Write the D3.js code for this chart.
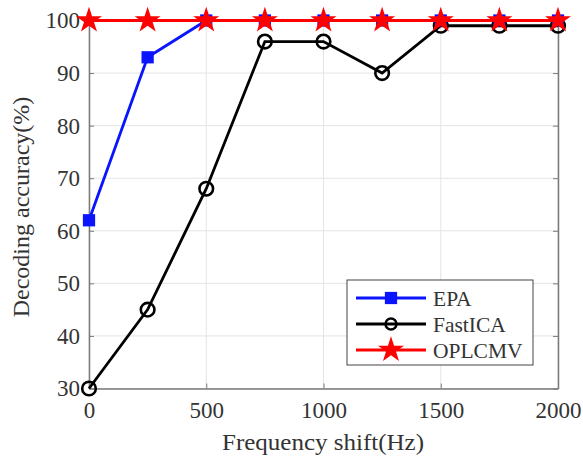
<!DOCTYPE html>
<html><head><meta charset="utf-8">
<script src="https://cdn.jsdelivr.net/npm/d3@7"></script>
<style>body{margin:0;background:#fff}svg{display:block}text{font-family:"Liberation Serif","Times New Roman",serif}</style>
</head><body><svg id="c" width="583" height="460"></svg>
<script>
const freqs = [0, 250, 500, 750, 1000, 1250, 1500, 1750, 2000];
const epa = [62, 93, 100, 100, 100, 100, 100, 100, 100];
const fastica = [30, 45, 68, 96, 96, 90, 99, 99, 99];
const oplcmv = [100, 100, 100, 100, 100, 100, 100, 100, 100];
const xTicks = [0, 500, 1000, 1500, 2000];
const yTicks = [30, 40, 50, 60, 70, 80, 90, 100];
const seriesNames = ["EPA", "FastICA", "OPLCMV"];

const svg = d3.select("#c");
const L = 89, R = 558, T = 20.5, B = 388.5;
const x = d3.scaleLinear().domain([0, 2000]).range([L, R]);
const y = d3.scaleLinear().domain([30, 100]).range([B, T]);
const axisCol = "#7a7a7a", gridCol = "#e4e4e4";

// grid
svg.append("g").selectAll("line").data(xTicks).join("line")
  .attr("x1", d => x(d)).attr("x2", d => x(d)).attr("y1", T).attr("y2", B)
  .attr("stroke", gridCol).attr("stroke-width", 1);
svg.append("g").selectAll("line").data(yTicks).join("line")
  .attr("x1", L).attr("x2", R).attr("y1", d => y(d)).attr("y2", d => y(d))
  .attr("stroke", gridCol).attr("stroke-width", 1);

// axes
const fmt = d3.format("d");
const ax = (g) => { g.select(".domain").attr("stroke", axisCol).attr("stroke-width", 1.5);
  g.selectAll(".tick line").attr("stroke", axisCol);
  g.selectAll(".tick text").attr("fill", "#333").style("font-size", "23px").style("font-family", '"Liberation Serif",serif'); };
svg.append("g").attr("transform", `translate(0,${B})`)
  .call(d3.axisBottom(x).tickValues(xTicks).tickFormat(fmt).tickSizeInner(-5).tickSizeOuter(0).tickPadding(13)).call(ax);
svg.append("g").attr("transform", `translate(${L},0)`)
  .call(d3.axisLeft(y).tickValues(yTicks).tickFormat(fmt).tickSizeInner(-5).tickSizeOuter(0).tickPadding(9)).call(ax);
svg.append("g").attr("transform", `translate(${R},0)`)
  .call(d3.axisRight(y).tickValues(yTicks).tickFormat("").tickSizeInner(-5).tickSizeOuter(0)).call(ax);
svg.append("g").attr("transform", `translate(0,${T})`)
  .call(d3.axisTop(x).tickValues(xTicks).tickFormat("").tickSizeInner(-5).tickSizeOuter(0)).call(ax);

const line = d3.line().x((d, i) => x(freqs[i])).y(d => y(d));
const star = d3.symbol().type(d3.symbolStar).size(210);
const sq = d3.symbol().type(d3.symbolSquare).size(150);

function draw(data, col, kind) {
  svg.append("path").datum(data).attr("d", line).attr("fill", "none").attr("stroke", col).attr("stroke-width", 2.8);
  const g = svg.append("g");
  data.forEach((v, i) => {
    if (kind === "circle") g.append("circle").attr("cx", x(freqs[i])).attr("cy", y(v)).attr("r", 6.8)
        .attr("fill", "none").attr("stroke", col).attr("stroke-width", 2.6);
    else g.append("path").attr("d", kind === "star" ? star() : sq()).attr("transform", `translate(${x(freqs[i])},${y(v)})`).attr("fill", col);
  });
}
draw(fastica, "#000", "circle");
draw(epa, "#0a14ff", "square");
draw(oplcmv, "#ff0000", "star");

// labels
svg.append("text").attr("x", 323).attr("y", 450).attr("text-anchor", "middle").style("font-size", "24px").attr("fill", "#333")
  .attr("textLength", 202).attr("lengthAdjust", "spacingAndGlyphs").text("Frequency shift(Hz)");
svg.append("text").attr("transform", "translate(29,207) rotate(-90)").attr("text-anchor", "middle").style("font-size", "24px").attr("fill", "#333").text("Decoding accuracy(%)");

// legend
const lg = svg.append("g");
lg.append("rect").attr("x", 347).attr("y", 280).attr("width", 186).attr("height", 85).attr("fill", "#fff").attr("stroke", "#444").attr("stroke-width", 1);
const cols = ["#0a14ff", "#000", "#ff0000"], kinds = ["square", "circle", "star"];
seriesNames.forEach((n, i) => {
  const yy = 298 + i * 26;
  lg.append("line").attr("x1", 356).attr("x2", 426).attr("y1", yy).attr("y2", yy).attr("stroke", cols[i]).attr("stroke-width", 2.8);
  if (kinds[i] === "circle") lg.append("circle").attr("cx", 391).attr("cy", yy).attr("r", 5.5).attr("fill", "none").attr("stroke", cols[i]).attr("stroke-width", 2.4);
  else lg.append("path").attr("d", kinds[i] === "star" ? star() : sq()).attr("transform", `translate(391,${yy})`).attr("fill", cols[i]);
  lg.append("text").attr("x", 433).attr("y", yy + 8).style("font-size", "21.5px").attr("fill", "#333").text(n);
});
</script></body></html>
